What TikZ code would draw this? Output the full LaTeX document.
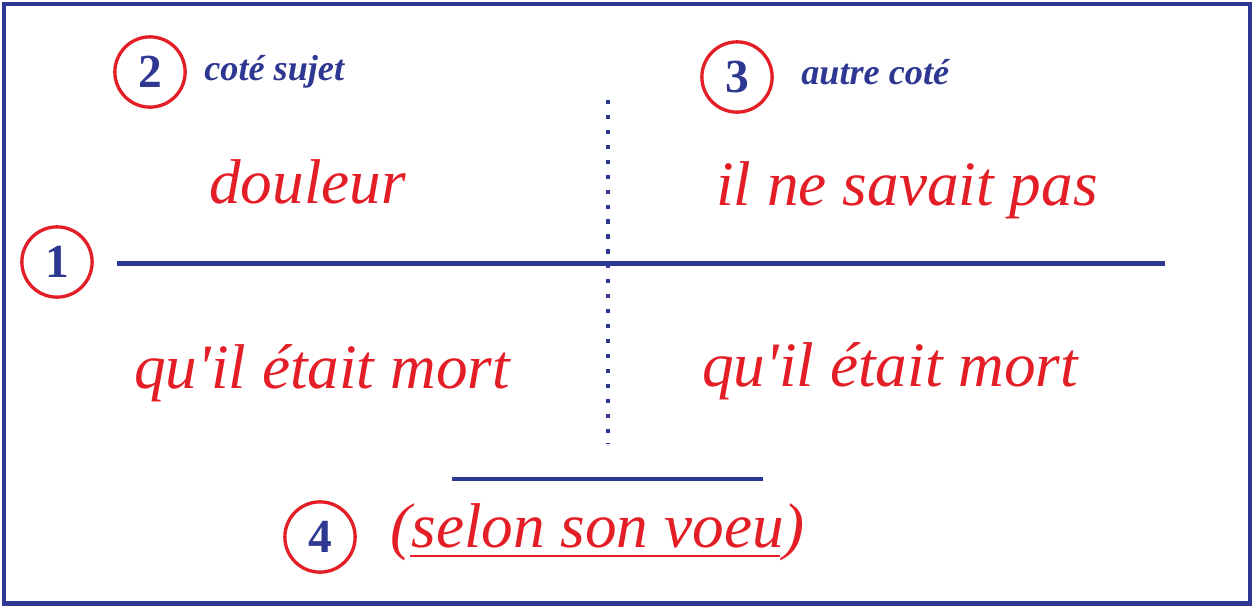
\documentclass[tikz,border=0pt]{standalone}
\usepackage{fontspec}
\setmainfont{Liberation Serif}
\usepackage{tikz}
\definecolor{bleu}{RGB}{46,56,146}
\definecolor{rouge}{RGB}{228,30,38}

\begin{document}
\begin{tikzpicture}[x=0.02cm,y=-0.02cm,
  trait/.style={draw=bleu,line width=2.6pt},
  rond/.style={circle,draw=rouge,line width=1.9pt,minimum size=40pt,inner sep=0pt,
    text=bleu,font=\fontsize{27}{30}\selectfont\bfseries},
  titre/.style={anchor=base west,inner sep=0pt,text=bleu,
    font=\fontsize{20.6}{24}\selectfont\bfseries\itshape},
  mot/.style={anchor=base west,inner sep=0pt,text=rouge,
    font=\fontsize{36}{40}\selectfont\itshape}]
\useasboundingbox (0,0) rectangle (1256,609) ;
\draw[bleu,line width=2.3pt] (4,4) rectangle (1250,603.5) ;
\draw[trait] (117,263.5) -- (1165,263.5) ;
\draw[trait] (452,479) -- (763,479) ;
\draw[bleu,line width=2.4pt,dash pattern=on 2.4pt off 6.1pt] (608,100) -- (608,444) ;
\node[rond] (un) at (57,262) {1} ;
\node[rond] (deux) at (150,72) {2} ;
\node[rond] (trois) at (737,77) {3} ;
\node[rond] (quatre) at (320,537) {4} ;
\node[titre] (sujet) at (204,80) {coté sujet} ;
\node[titre] (autre) at (801,84) {autre coté} ;
\node[mot] (douleur) at (209,203) {douleur} ;
\node[mot] (savait) at (716,205) {il ne savait pas} ;
\node[mot] (mortg) at (134,388) {qu\textquotesingle il était mort} ;
\node[mot] (mortd) at (702,386) {qu\textquotesingle il était mort} ;
\node[mot] (voeu) at (390,547) {(selon son voeu)} ;
\draw[rouge,line width=1.5pt] (410,556) -- (780,556) ;
\end{tikzpicture}
\end{document}
